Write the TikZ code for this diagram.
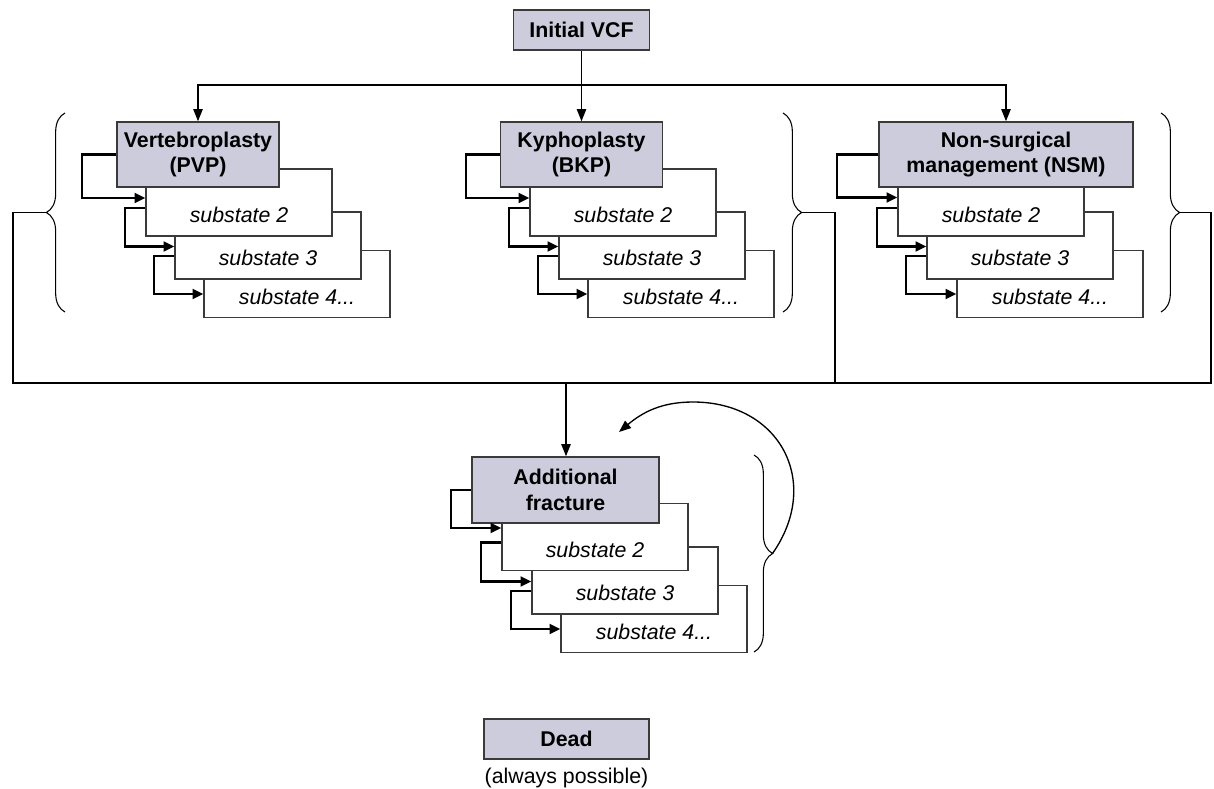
\documentclass[tikz,border=0pt]{standalone}
\usepackage{fontspec}
\setmainfont{Liberation Sans}
\usepackage{tikz}
\usetikzlibrary{arrows.meta,positioning,calc,decorations.pathreplacing}
\definecolor{statefill}{HTML}{CCCCDD}
\definecolor{boxline}{HTML}{3A3A3A}
\newcommand{\figfont}{\fontsize{16}{19}\selectfont}
\tikzset{
  mainbox/.style={draw=boxline, fill=statefill, line width=1.2pt, font=\figfont\bfseries, align=center, inner sep=0pt, minimum height=48.75pt},
  subbox/.style={draw=boxline, fill=white, line width=1.2pt, font=\figfont\itshape, inner sep=0pt, minimum width=139.5pt, text height=40.25pt, text depth=10pt},
  note/.style={font=\figfont},
  flowarr/.style={-{Triangle[length=9pt,width=7pt]}, line width=1pt},
  looparr/.style={-{Triangle[length=8pt,width=7.5pt]}, line width=1.6pt},
  busline/.style={line width=1.1pt},
  grpbrace/.style={decorate, decoration={brace, amplitude=14pt}, line width=0.8pt}
}

\begin{document}
\begin{tikzpicture}[x=0.75pt, y=0.75pt]
  \useasboundingbox (0,0) rectangle (1214,-789);

  \node[mainbox, minimum width=102pt, minimum height=30pt] (init) at (581.5,-30) {Initial VCF};

  % treatment groups, back boxes first
  \node[subbox] (pvp4) at (297,-284) {substate 4...};
  \node[subbox] (pvp3) at (268,-245.5) {substate 3};
  \node[subbox] (pvp2) at (239,-202.5) {substate 2};
  \node[mainbox, minimum width=121.5pt] (pvp) at (198,-154.5) {Vertebroplasty\\(PVP)};

  \node[subbox] (bkp4) at (681,-284) {substate 4...};
  \node[subbox] (bkp3) at (652,-245.5) {substate 3};
  \node[subbox] (bkp2) at (623,-202.5) {substate 2};
  \node[mainbox, minimum width=121.5pt] (bkp) at (581.5,-154.5) {Kyphoplasty\\(BKP)};

  \node[subbox] (nsm4) at (1050,-284) {substate 4...};
  \node[subbox] (nsm3) at (1020,-245.5) {substate 3};
  \node[subbox] (nsm2) at (991,-202.5) {substate 2};
  \node[mainbox, minimum width=190.5pt] (nsm) at (1006,-154.5) {Non-surgical\\management (NSM)};

  \node[subbox] (af4) at (654,-619) {substate 4...};
  \node[subbox] (af3) at (625,-580.5) {substate 3};
  \node[subbox] (af2) at (595,-537) {substate 2};
  \node[mainbox, minimum width=140.25pt, minimum height=49.5pt] (af) at (565.5,-490) {Additional\\fracture};

  \node[mainbox, minimum width=123.75pt, minimum height=30pt] (dead) at (566.5,-739) {Dead};
  \node[note, below=3pt of dead] (deadnote) {(always possible)};

  % initial split
  \coordinate (split) at (581.5,-85);
  \draw[flowarr] (init) -- (bkp);
  \draw[flowarr] (split) -| (pvp);
  \draw[flowarr] (split) -| (nsm);

  % staying in a state
  \draw[looparr] (pvp.west) -- ++(-34,0) |- ($(pvp2.west)+(0,4.5)$);
  \draw[looparr] (bkp.west) -- ++(-34,0) |- ($(bkp2.west)+(0,4.5)$);
  \draw[looparr] (nsm.west) -- ++(-41,0) |- ($(nsm2.west)+(0,5)$);
  \draw[looparr] (af.west) -- ++(-20,0) |- ($(af2.west)+(0,9)$);
  \foreach \g in {pvp,bkp,nsm,af} {
    \draw[looparr] ($(\g2.west)+(0,-5.5)$) -- ++(-20,0) |- ($(\g3.west)+(0,-1)$);
    \draw[looparr] ($(\g3.west)+(0,-10.5)$) -- ++(-20,0) |- ($(\g4.west)+(0,-10)$);
  }

  % braces
  \draw[grpbrace] (65,-312) -- (65,-113);
  \draw[grpbrace] (783,-113) -- (783,-312);
  \draw[grpbrace] (1161,-113) -- (1161,-312);
  \draw[grpbrace] (754,-455) -- (754,-652);
  \coordinate (pvptip) at (46.5,-212.5);
  \coordinate (bkptip) at (801.5,-212.5);
  \coordinate (nsmtip) at (1179.5,-212.5);
  \coordinate (aftip) at (772.5,-553.5);

  % to additional fracture
  \coordinate (leftbus) at (13,-383);
  \coordinate (rightbus) at (1211,-383);
  \coordinate (bus) at (835,-383);
  \coordinate (drop) at (566,-383);
  \coordinate (arctop) at (693,-402);
  \coordinate (arcend) at (619,-432);
  \draw[busline] (pvptip) -| (leftbus) -- (rightbus) |- (nsmtip);
  \draw[busline] (bkptip) -| (bus);
  \draw[flowarr] (drop) -- (drop |- af.north);
  \draw[flowarr] (aftip) to[out=55, in=0, looseness=1.3] (arctop) to[out=180, in=40] (arcend);
\end{tikzpicture}
\end{document}
